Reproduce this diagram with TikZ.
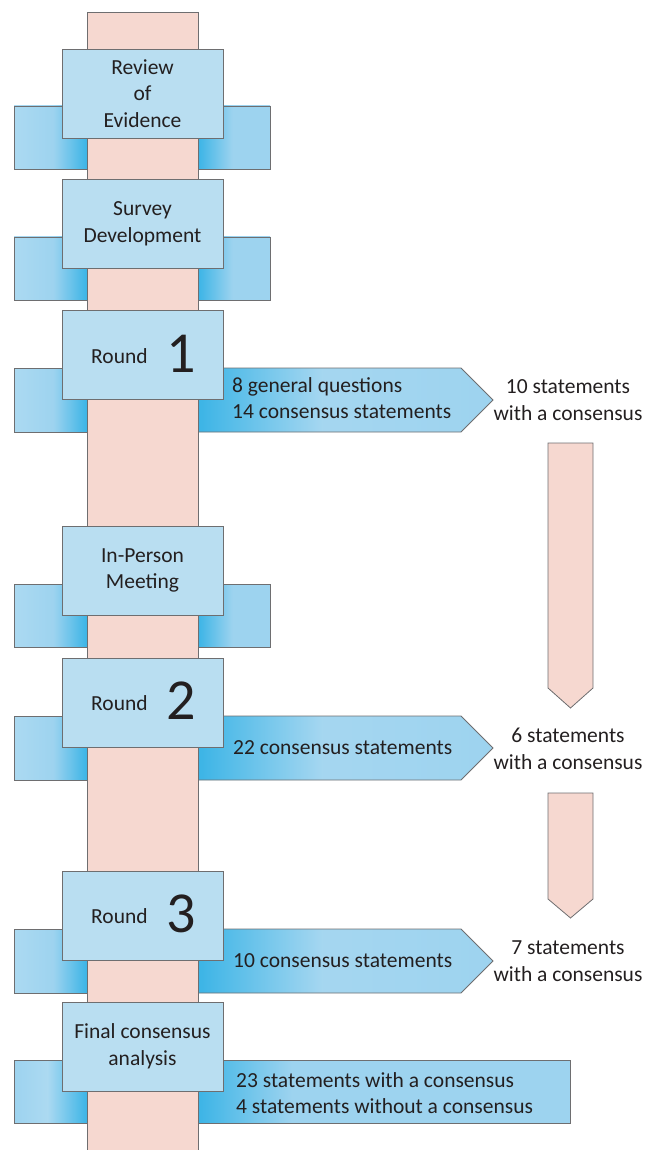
\documentclass[tikz,border=0pt]{standalone}
\usepackage{fontspec}
\setmainfont{Carlito}
\definecolor{pinkf}{HTML}{F6D8D0}
\definecolor{boxb}{HTML}{B9DEF1}
\definecolor{darkb}{HTML}{3BB4E6}
\definecolor{lightb}{HTML}{9DD3EF}
\definecolor{edgec}{HTML}{6E6E70}
\definecolor{txt}{HTML}{231F20}
\pgfdeclarehorizontalshading{lwingsh}{100bp}{color(0bp)=(lightb); color(25bp)=(lightb!85!white); color(52bp)=(lightb); color(75bp)=(darkb); color(100bp)=(darkb)}
\pgfdeclarehorizontalshading{rwingsh}{100bp}{color(0bp)=(darkb); color(25bp)=(darkb); color(49bp)=(lightb); color(75bp)=(lightb); color(100bp)=(lightb)}
\pgfdeclarehorizontalshading{arrowsh}{100bp}{color(0bp)=(darkb); color(25bp)=(darkb); color(46bp)=(lightb!92!white); color(75bp)=(lightb); color(100bp)=(lightb)}
\pgfdeclarehorizontalshading{widesh}{100bp}{color(0bp)=(lightb); color(25bp)=(lightb); color(28bp)=(lightb!85!white); color(31.6bp)=(darkb); color(41.5bp)=(darkb); color(50bp)=(lightb); color(75bp)=(lightb); color(100bp)=(lightb)}
\tikzset{
  stage/.style={draw=edgec, line width=0.8pt, fill=boxb, minimum width=161pt, minimum height=89pt,
    inner sep=0pt, align=center, text=txt, font=\fontsize{21.5}{26.5}\selectfont},
  lwing/.style={draw=edgec, line width=0.8pt, shading=lwingsh},
  rwing/.style={draw=edgec, line width=0.8pt, shading=rwingsh},
  barrow/.style={draw=edgec, line width=0.8pt, shading=arrowsh},
  parrow/.style={draw=edgec, line width=0.8pt, fill=pinkf},
  lbl/.style={inner sep=0pt, text=txt, font=\fontsize{21.5}{26.5}\selectfont},
  bignum/.style={inner sep=0pt, text=txt, font=\fontsize{58}{58}\selectfont, anchor=base},
}
\begin{document}
\begin{tikzpicture}[x=1pt,y=-1pt]
\useasboundingbox (0,0) rectangle (648,1150);
% wings
\foreach \t in {106,237,584}{
  \draw[lwing] (14,\t) rectangle (87,\t+63);
  \draw[rwing] (198,\t) rectangle (270,\t+63);
}
\foreach \t in {368,716,929}{
  \draw[lwing] (14,\t) rectangle (87,\t+64);
  \draw[barrow] (198,\t) -- (461,\t) -- (493,\t+32) -- (461,\t+64) -- (198,\t+64) -- cycle;
}
\draw[draw=edgec, line width=0.8pt, shading=widesh] (14,1060) rectangle (570,1123);
% central bar
\fill[pinkf] (87,12) rectangle (198,1152);
\draw[edgec, line width=0.8pt] (87,1152) -- (87,12) -- (198,12) -- (198,1152);
% stage boxes
\node[stage] (rev) at (142.5,93.5) {Review\\of\\Evidence};
\node[stage] (sur) at (142.5,224) {Survey\\Development};
\node[stage] (r1) at (142.5,355) {};
\node[stage] (mee) at (142.5,570.5) {In-Person\\Meeting};
\node[stage] (r2) at (142.5,702.5) {};
\node[stage] (r3) at (142.5,915.5) {};
\node[stage] (fin) at (142.5,1046.5) {Final consensus\\analysis};
% round labels
\node[lbl, anchor=base west] (r1t) at (91,363) {Round};
\node[bignum] (r1n) at (181,372) {1};
\node[lbl, anchor=base west] (r2t) at (91,710) {Round};
\node[bignum] (r2n) at (181,719) {2};
\node[lbl, anchor=base west] (r3t) at (91,923) {Round};
\node[bignum] (r3n) at (181,932) {3};
% arrow texts
\node[lbl, anchor=west, align=left] (a1) at (232,398) {8 general questions\\14 consensus statements};
\node[lbl, anchor=west] (a2) at (233,748) {22 consensus statements};
\node[lbl, anchor=west] (a3) at (233,961) {10 consensus statements};
\node[lbl, anchor=west, align=left] (a4) at (236,1093) {23 statements with a consensus\\4 statements without a consensus};
% results
\node[lbl, align=center] (res1) at (568,400) {10 statements\\with a consensus};
\node[lbl, align=center] (res2) at (568,749) {6 statements\\with a consensus};
\node[lbl, align=center] (res3) at (568,961) {7 statements\\with a consensus};
% pink down arrows
\draw[parrow] (548,443) -- (593,443) -- (593,688) -- (570.5,708) -- (548,688) -- cycle;
\draw[parrow] (548,793) -- (593,793) -- (593,899) -- (570.5,918) -- (548,899) -- cycle;
\end{tikzpicture}
\end{document}
